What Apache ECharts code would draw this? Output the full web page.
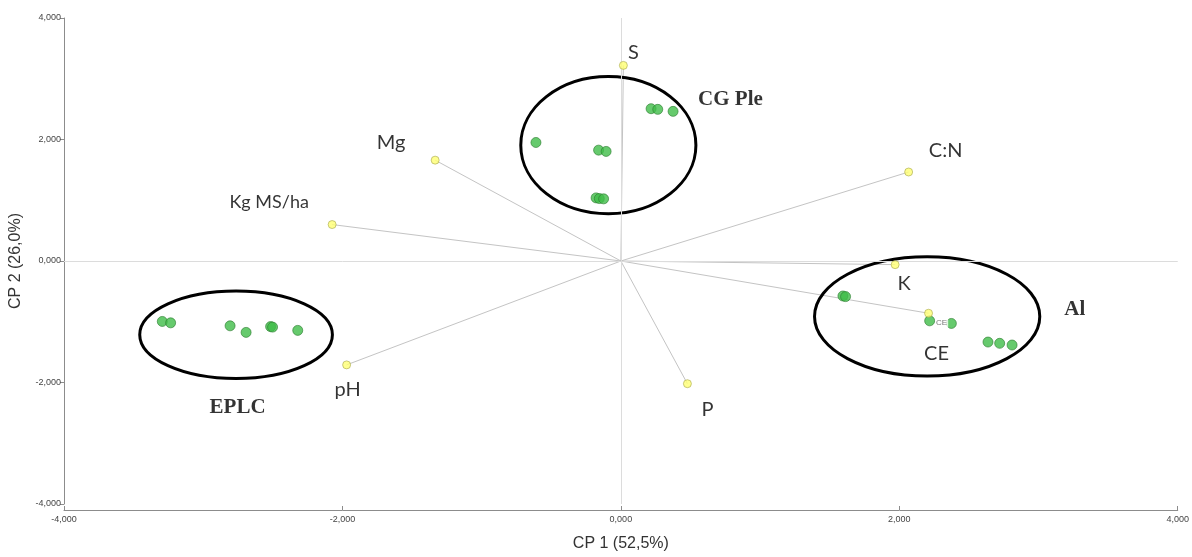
<!DOCTYPE html>
<html>
<head>
<meta charset="utf-8">
<title>CP 1 / CP 2 biplot</title>
<script src="https://cdn.jsdelivr.net/npm/echarts@6/dist/echarts.min.js"></script>
<style>
  html, body { margin: 0; padding: 0; background: #ffffff; }
  #chart { width: 1192px; height: 557px; }
</style>
</head>
<body>
<div id="chart"></div>
<script>
// Axis ticks (both components share the same range)
const axisTicks = [-4, -2, 0, 2, 4];

// Variable loadings (CP 1, CP 2)
const varNames = ['S', 'Mg', 'Kg MS/ha', 'C:N', 'K', 'CE', 'pH', 'P'];
const varCP1 = [0.018, -1.334, -2.074, 2.067, 1.970, 2.210, -1.970, 0.478];
const varCP2 = [3.220, 1.660, 0.600, 1.465, -0.060, -0.860, -1.710, -2.020];

// Observation scores (CP 1, CP 2)
const obsCP1 = [
  0.217, 0.265, 0.375, -0.610, -0.160, -0.106, -0.178, -0.155, -0.124,
  1.595, 1.614, 2.218, 2.374, 2.637, 2.721, 2.810,
  -3.294, -3.234, -2.807, -2.692, -2.516, -2.502, -2.321
];
const obsCP2 = [
  2.507, 2.496, 2.463, 1.951, 1.825, 1.804, 1.039, 1.028, 1.023,
  -0.576, -0.586, -0.985, -1.028, -1.334, -1.355, -1.383,
  -0.995, -1.018, -1.067, -1.175, -1.080, -1.088, -1.142
];

// Groups: names, label anchor and enclosing ellipse (centre and radii, axis units)
const groupNames = ['CG Ple', 'Al', 'EPLC'];
const groupLabelCP1 = [0.787, 3.260, -2.753];
const groupLabelCP2 = [2.660, -0.794, -2.414];
const ellipseCP1 = [-0.090, 2.200, -2.764];
const ellipseCP2 = [1.907, -0.913, -1.214];
const ellipseRadiusCP1 = [0.629, 0.809, 0.692];
const ellipseRadiusCP2 = [1.129, 0.982, 0.720];

// Small tag beside the CE loading
const tagText = ['CE'];
const tagCP1 = [2.304];
const tagCP2 = [-1.023];

// Label offsets (pixels) for the variable names
const varLabelOffset = {
  'S': [10, -13], 'Mg': [-44, -18], 'Kg MS/ha': [-63, -22], 'C:N': [37, -21],
  'K': [9, 19], 'CE': [8, 40], 'pH': [1, 25], 'P': [20, 26]
};
const varLabelSize = { 'Kg MS/ha': 18 };

const fmt = v => v.toFixed(3).replace('.', ',');

const chart = echarts.init(document.getElementById('chart'), null, { renderer: 'canvas' });

const loadingLines = varNames.map((n, i) => ({ coords: [[0, 0], [varCP1[i], varCP2[i]]] }));

const varPoints = varNames.map((n, i) => ({
  name: n,
  value: [varCP1[i], varCP2[i]],
  label: {
    offset: varLabelOffset[n],
    fontSize: varLabelSize[n] || 20
  }
}));

const obsPoints = obsCP1.map((x, i) => [x, obsCP2[i]]);

const ellipses = groupNames.map((n, i) => [ellipseCP1[i], ellipseCP2[i], ellipseRadiusCP1[i], ellipseRadiusCP2[i]]);

const groupLabels = groupNames.map((n, i) => ({ name: n, value: [groupLabelCP1[i], groupLabelCP2[i]] }));
const tags = tagText.map((n, i) => ({ name: n, value: [tagCP1[i], tagCP2[i]] }));

const axisCommon = {
  min: axisTicks[0],
  max: axisTicks[axisTicks.length - 1],
  interval: axisTicks[1] - axisTicks[0],
  splitLine: { show: false },
  axisLine: { onZero: false, lineStyle: { color: '#8c8c8c', width: 1 } },
  axisLabel: {
    formatter: fmt,
    fontFamily: 'Liberation Sans',
    fontSize: 9,
    color: '#444'
  },
  nameLocation: 'middle',
  nameTextStyle: { fontFamily: 'Liberation Sans', fontSize: 16, color: '#333' }
};

chart.setOption({
  animation: false,
  backgroundColor: '#ffffff',
  grid: { left: 64, right: 14, top: 18, bottom: 50 },
  xAxis: Object.assign({}, axisCommon, {
    type: 'value',
    position: 'bottom',
    offset: 6,
    name: 'CP 1 (52,5%)',
    nameGap: 26,
    axisTick: { inside: true, length: 4, lineStyle: { color: '#8c8c8c' } },
    axisLabel: Object.assign({}, axisCommon.axisLabel, { margin: 5 })
  }),
  yAxis: Object.assign({}, axisCommon, {
    type: 'value',
    name: 'CP 2 (26,0%)',
    nameGap: 40,
    axisTick: { inside: false, length: 4, lineStyle: { color: '#8c8c8c' } },
    axisLabel: Object.assign({}, axisCommon.axisLabel, { margin: 3 })
  }),
  series: [
    {
      // zero reference lines
      type: 'line',
      data: [],
      silent: true,
      markLine: {
        silent: true,
        symbol: 'none',
        label: { show: false },
        lineStyle: { color: '#dcdcdc', width: 1, type: 'solid' },
        data: [{ xAxis: 0 }, { yAxis: 0 }]
      },
      z: 1
    },
    {
      // loading vectors from the origin
      type: 'lines',
      coordinateSystem: 'cartesian2d',
      silent: true,
      lineStyle: { color: '#c4c4c4', width: 1, opacity: 1, curveness: 0 },
      data: loadingLines,
      z: 2
    },
    {
      // group ellipses
      type: 'custom',
      coordinateSystem: 'cartesian2d',
      silent: true,
      clip: false,
      encode: { x: 0, y: 1 },
      data: ellipses,
      renderItem: function (params, api) {
        const c = api.coord([api.value(0), api.value(1)]);
        const s = api.size([api.value(2), api.value(3)]);
        return {
          type: 'ellipse',
          shape: { cx: c[0], cy: c[1], rx: s[0], ry: s[1] },
          style: { fill: null, stroke: '#000000', lineWidth: 3 }
        };
      },
      z: 3
    },
    {
      // observation scores
      type: 'scatter',
      symbol: 'circle',
      symbolSize: 10,
      itemStyle: { color: '#40bd48', borderColor: '#2d7d31', borderWidth: 0.8 },
      data: obsPoints,
      z: 4
    },
    {
      // variable loadings
      type: 'scatter',
      symbol: 'circle',
      symbolSize: 8,
      itemStyle: { color: '#ffff73', borderColor: '#a8a850', borderWidth: 0.8 },
      label: {
        show: true,
        position: 'inside',
        formatter: '{b}',
        fontFamily: 'Lato',
        color: '#000',
        align: 'center',
        verticalAlign: 'middle'
      },
      data: varPoints,
      z: 5
    },
    {
      // small tag beside CE
      type: 'scatter',
      symbolSize: 0,
      silent: true,
      label: {
        show: true,
        position: 'inside',
        formatter: '{b}',
        fontFamily: 'Liberation Sans',
        fontSize: 8,
        color: '#555',
        backgroundColor: '#ffffff',
        padding: [1, 1]
      },
      data: tags,
      z: 6
    },
    {
      // group names
      type: 'scatter',
      symbolSize: 0,
      silent: true,
      label: {
        show: true,
        position: 'inside',
        formatter: '{b}',
        fontFamily: 'Liberation Serif',
        fontWeight: 'bold',
        fontSize: 21,
        color: '#000'
      },
      data: groupLabels,
      z: 6
    }
  ]
});
</script>
</body>
</html>
